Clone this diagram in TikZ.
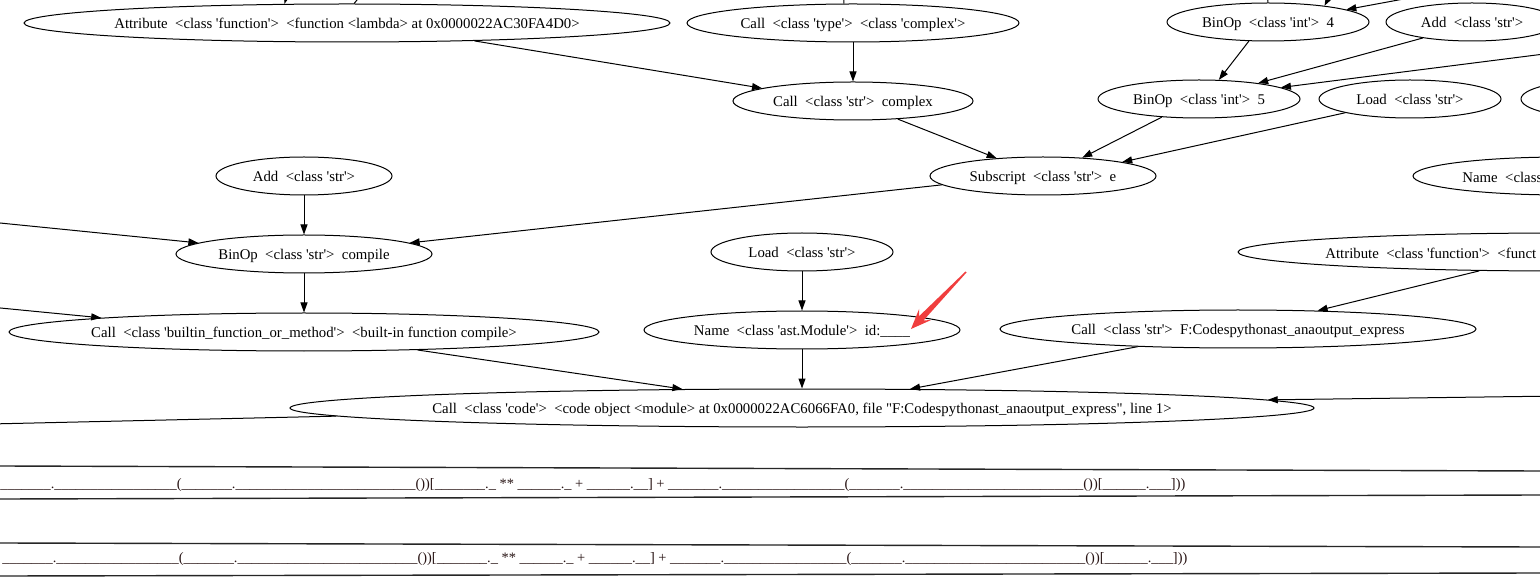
\documentclass[tikz,border=0pt]{standalone}
\usepackage{fontspec}
\setmainfont{Liberation Serif}
\usepackage{xcolor}
\usepackage{tikz}
\usetikzlibrary{shapes.geometric, arrows.meta, positioning}
\definecolor{codeink}{RGB}{40,20,20}
\definecolor{markred}{RGB}{240,62,62}
\newcommand{\sq}{\textquotesingle}
\newcommand{\dq}{\textquotedbl}
\newcommand{\lbl}[1]{\makebox[0pt]{\raisebox{-1pt}[\height][\depth]{\vphantom{Ap\_}#1}}}
\newcommand{\us}[1]{\foreach \cnt in {1,...,#1}{\_}}
\newcommand{\codestr}{\us{7}.\us{17}(\us{7}.\us{25}())[\us{7}.\_ ** \us{6}.\_ + \us{6}.\us{2}] + \us{7}.\us{17}(\us{7}.\us{25}())[\us{6}.\us{3}]))}
\tikzset{
  astnode/.style={ellipse, draw, line width=0.5pt, minimum width=#1*1pt, minimum height=19pt, inner sep=0pt, font=\fontsize{7.4}{9}\selectfont},
  astnode/.default=100,
  cuttext/.style={anchor=west, inner sep=0pt, font=\fontsize{7.4}{9}\selectfont},
  codetext/.style={anchor=west, inner sep=0pt, text=codeink, font=\fontsize{7.2}{8.6}\selectfont},
  arr/.style={-{Triangle[length=5pt, width=3.5pt]}, line width=0.5pt},
  stub/.style={line width=0.5pt},
  band/.style={line width=0.7pt, black!85},
}
\begin{document}
\begin{tikzpicture}[x=0.5pt, y=-0.5pt, node distance=19.5pt]
  \useasboundingbox (0,0) rectangle (1540,587);
  \fill[white] (0,0) rectangle (1540,587);
  \clip (0,0) rectangle (1540,587);

  % tree nodes
  \node[astnode=323] (attrlambda) at (347,23) {\lbl{Attribute~~<class \sq function\sq>~~<function <lambda> at 0x0000022AC30FA4D0>}};
  \node[astnode=166] (calltype) at (853,23) {\lbl{Call~~<class \sq type\sq>~~<class \sq complex\sq>}};
  \node[astnode=101] (binopfour) at (1268,22) {\lbl{BinOp~~<class \sq int\sq>~~4}};
  \node[astnode=86] (addright) at (1472,22) {\lbl{Add~~<class \sq str\sq>}};
  \node[astnode=120, below=of calltype] (callcomplex) {\lbl{Call~~<class \sq str\sq>~~complex}};
  \node[astnode=101] (binopfive) at (1199,99) {\lbl{BinOp~~<class \sq int\sq>~~5}};
  \node[astnode=91] (loadtop) at (1410,99) {\lbl{Load~~<class \sq str\sq>}};
  \node[astnode=80] (edgeright) at (1601,99) {};
  \node[astnode=88] (addleft) at (304,176) {\lbl{Add~~<class \sq str\sq>}};
  \node[astnode=113] (subscript) at (1043,176) {\lbl{Subscript~~<class \sq str\sq>~~e}};
  \node[astnode=150] (nameright) at (1563,176) {};
  \node[cuttext] (namerightlbl) at (1462,177) {Name~~<class};
  \node[astnode=128, below=of addleft] (binopcompile) {\lbl{BinOp~~<class \sq str\sq>~~compile}};
  \node[astnode=91] (loadmid) at (802,252) {\lbl{Load~~<class \sq str\sq>}};
  \node[astnode=323] (attrright) at (1561,252) {};
  \node[cuttext] (attrrightlbl) at (1325,253) {Attribute~~<class \sq function\sq>~~<funct};
  \node[astnode=295, below=of binopcompile] (callcompile) {\lbl{Call~~<class \sq builtin\_function\_or\_method\sq>~~<built-in function compile>}};
  \node[astnode=158, below=of loadmid] (namemodule) {\lbl{Name~~<class \sq ast.Module\sq>~~id:\_\_\_\_}};
  \node[astnode=238] (callpath) at (1238,329) {\lbl{Call~~<class \sq str\sq>~~F:Codespythonast\_anaoutput\_express}};
  \node[astnode=512, below=of namemodule] (callcode) {\lbl{Call~~<class \sq code\sq>~~<code object <module> at 0x0000022AC6066FA0, file \dq F:Codespythonast\_anaoutput\_express\dq, line 1>}};

  % free ends at the border of the crop
  \coordinate (topa) at (291,-18);
  \coordinate (topb) at (362,-6);
  \coordinate (topc) at (844,-6);
  \coordinate (topd) at (1267,-6);
  \coordinate (tope) at (1334,-12);
  \coordinate (topf) at (1420,-4);
  \coordinate (offright) at (1560,52);
  \coordinate (offleft) at (-10,222);
  \coordinate (offlefttwo) at (-10,307);
  \coordinate (offrighttwo) at (1560,396);
  \coordinate (offleftthree) at (-10,424);

  % connectors
  \draw[arr] (topa) -- (attrlambda.163);
  \draw[stub] (topb) -- (attrlambda.70);
  \draw[stub] (topc) -- (calltype.115);
  \draw[stub] (topd) -- (binopfour.north);
  \draw[arr] (tope) -- (binopfour.16);
  \draw[arr] (topf) -- (binopfour.9);
  \draw[arr] (attrlambda.-8) -- (callcomplex.172);
  \draw[arr] (calltype) -- (callcomplex);
  \draw[arr] (binopfour.-135) -- (binopfive.44);
  \draw[arr] (addright.-162) -- (binopfive.15);
  \draw[arr] (offright) -- (binopfive.8);
  \draw[arr] (callcomplex.-22) -- (subscript.159);
  \draw[arr] (binopfive.-154) -- (subscript.25);
  \draw[arr] (loadtop.-168) -- (subscript.10);
  \draw[arr] (subscript.-175) -- (binopcompile.6);
  \draw[arr] (offleft) -- (binopcompile.174);
  \draw[arr] (addleft) -- (binopcompile);
  \draw[arr] (binopcompile) -- (callcompile);
  \draw[arr] (offlefttwo) -- (callcompile.176);
  \draw[arr] (callcompile.-9) -- (callcode.171);
  \draw[arr] (loadmid) -- (namemodule);
  \draw[arr] (namemodule) -- (callcode);
  \draw[arr] (attrright.-167) -- (callpath.13);
  \draw[arr] (callpath.-170) -- (callcode.10);
  \draw[arr] (offrighttwo) -- (callcode.1);
  \draw[stub] (callcode.-179) -- (offleftthree);

  % red marker
  \fill[markred] (911,329) -- (930.7,320.2) -- (923.6,320.3) -- (966.5,272.5) -- (965.5,271.5) -- (919.2,316.1) -- (919.1,309.0) -- cycle;

  % code bands
  \draw[band] (0,466) -- (1540,471);
  \draw[band] (0,499) -- (1540,495);
  \draw[band] (0,543) -- (1540,547);
  \draw[band] (0,576) -- (1540,573);
  \node[codetext] (codeone) at (0,485) {\codestr};
  \node[codetext] (codetwo) at (2,559) {\codestr};
\end{tikzpicture}
\end{document}
